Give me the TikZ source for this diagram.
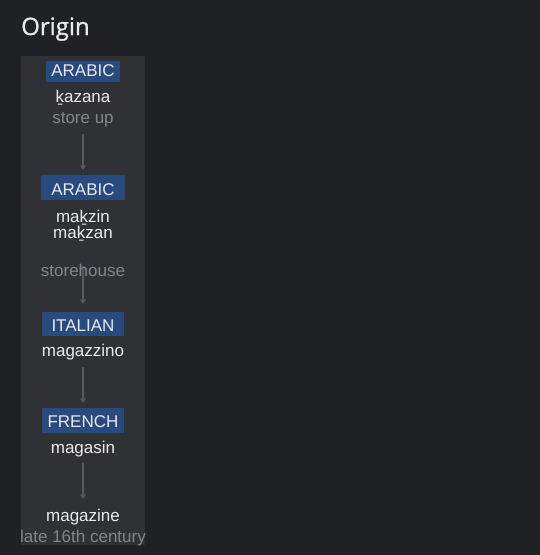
\documentclass[tikz,border=0pt]{standalone}
\usepackage{fontspec}
\setmainfont{Liberation Sans}
\newfontfamily\titlefont[FakeBold=1]{Open Sans}
\usetikzlibrary{arrows.meta}
\definecolor{bgc}{HTML}{202124}
\definecolor{panelc}{HTML}{303134}
\definecolor{boxc}{HTML}{284A7E}
\definecolor{txtc}{HTML}{E8EAED}
\definecolor{dimc}{HTML}{80868B}
\definecolor{arrc}{HTML}{56595E}
\tikzset{
  word/.style={anchor=base, text=txtc, font=\fontsize{17}{19}\selectfont, inner sep=0pt},
  gloss/.style={anchor=base, text=dimc, font=\fontsize{17}{19}\selectfont, inner sep=0pt},
  langtxt/.style={anchor=base, text=txtc, font=\fontsize{17}{19}\selectfont, inner sep=0pt},
  flow/.style={draw=arrc, line width=1.3pt, -{Stealth[length=5pt,width=6pt]}}
}
\begin{document}
\begin{tikzpicture}[x=1pt,y=-1pt]
\useasboundingbox (0,0) rectangle (540,555);
\fill[bgc] (0,0) rectangle (540,555);
\node[anchor=base west, text=txtc, font=\titlefont\fontsize{24}{26}\selectfont, inner sep=0pt] (title) at (21,35) {Origin};
\fill[panelc] (21,56) rectangle (145,545);
% language boxes
\fill[boxc] (46,61) rectangle (120,82);
\fill[boxc] (41,175) rectangle (125,200);
\fill[boxc] (42,312) rectangle (124,336);
\fill[boxc] (42,408) rectangle (124,433);
% arrow anchors
\coordinate (a1) at (83,134); \coordinate (b1) at (83,170);
\coordinate (a2) at (83,266); \coordinate (b2) at (83,304);
\coordinate (a3) at (83,367); \coordinate (b3) at (83,403);
\coordinate (a4) at (83,463); \coordinate (b4) at (83,499);
\draw[flow] (a1) -- (b1);
\draw[flow] (a2) -- (b2);
\draw[flow] (a3) -- (b3);
\draw[flow] (a4) -- (b4);
% texts
\node[langtxt] (l1) at (83,76) {ARABIC};
\node[word] (w1) at (83,102) {ḵazana};
\node[gloss] (g1) at (83,123) {store up};
\node[langtxt] (l2) at (83,195) {ARABIC};
\node[word] (w2a) at (83,222) {maḵzin};
\node[word] (w2b) at (83,238) {maḵzan};
\node[gloss] (g2) at (83,276) {storehouse};
\node[langtxt] (l3) at (83,331) {ITALIAN};
\node[word] (w3) at (83,356) {magazzino};
\node[langtxt] (l4) at (83,427) {FRENCH};
\node[word] (w4) at (83,453) {magasin};
\node[word] (w5) at (83,521) {magazine};
\node[gloss] (g5) at (83,542) {late 16th century};
\end{tikzpicture}
\end{document}
